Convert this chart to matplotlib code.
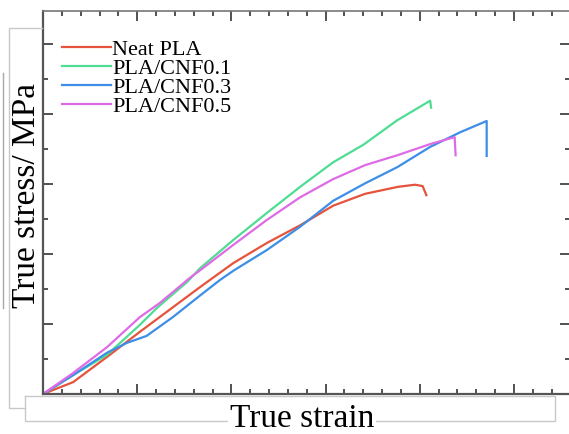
import numpy as np
import matplotlib
matplotlib.use("Agg")
import matplotlib.pyplot as plt
from matplotlib.lines import Line2D
from matplotlib.ticker import MultipleLocator

# --------------------------------------------------------
# Data
# --------------------------------------------------------
labels = ["Neat PLA", "PLA/CNF0.1", "PLA/CNF0.3", "PLA/CNF0.5"]
colors = ["#E5533C", "#4FDC93", "#3C8EE6", "#DE6BE6"]

neat_strain = [0, 0.0032, 0.0068, 0.0103, 0.0138, 0.0167, 0.0202, 0.0238, 0.0273,
               0.0308, 0.0342, 0.0377, 0.0395, 0.0403, 0.0407]
neat_stress = [0, 1.7, 5.3, 8.9, 12.4, 15.3, 18.7, 21.6, 24.1,
               26.9, 28.6, 29.6, 29.9, 29.7, 28.4]

cnf01_strain = [0, 0.0032, 0.0068, 0.0103, 0.0121, 0.0153, 0.0167, 0.0202, 0.0238,
                0.0273, 0.0308, 0.0340, 0.0376, 0.0411, 0.0412]
cnf01_stress = [0, 2.7, 5.6, 9.9, 12.3, 16.0, 18.0, 22.0, 25.9,
                29.6, 33.1, 35.6, 39.1, 41.9, 40.9]

cnf03_strain = [0, 0.0032, 0.0068, 0.0089, 0.0110, 0.0138, 0.0167, 0.0188, 0.0202,
                0.0238, 0.0273, 0.0308, 0.0342, 0.0376, 0.0411, 0.0443, 0.0471, 0.0471]
cnf03_stress = [0, 2.7, 5.9, 7.3, 8.3, 11.0, 14.1, 16.3, 17.6,
                20.6, 23.9, 27.6, 30.1, 32.4, 35.3, 37.4, 39.0, 34.0]

cnf05_strain = [0, 0.0032, 0.0068, 0.0103, 0.0124, 0.0156, 0.0167, 0.0202, 0.0238,
                0.0273, 0.0308, 0.0342, 0.0376, 0.0411, 0.0437, 0.0438]
cnf05_stress = [0, 3.0, 6.7, 11.0, 13.0, 16.6, 17.7, 21.3, 24.9,
                28.1, 30.7, 32.7, 34.1, 35.7, 36.7, 34.1]

curves = [(neat_strain, neat_stress), (cnf01_strain, cnf01_stress),
          (cnf03_strain, cnf03_stress), (cnf05_strain, cnf05_stress)]

W, H = 569, 434
plt.rcParams['font.family'] = ['Liberation Serif', 'DejaVu Serif']


def px(x, y):
    """Pixel position (from top-left) -> figure fraction."""
    return x / W, 1 - y / H


fig = plt.figure(figsize=(W / 100, H / 100), dpi=100)

# grey text-box outlines around the axis titles (as in the original export)
box_col = "#c8c8c8"


def fig_line(points, color=box_col, lw=1.0, z=0.5):
    xs, ys = zip(*[px(a, b) for a, b in points])
    fig.add_artist(Line2D(xs, ys, color=color, lw=lw, zorder=z))


fig_line([(25, 396), (25, 421), (555, 421), (555, 396), (25, 396)])
fig_line([(42, 28), (9, 28), (9, 408), (25, 408)])
fig_line([(3, 73), (3, 308)], color="#a8a8a8")

l, b = px(43, 394)
r, t = px(570, 11)
ax = fig.add_axes([l, b, r - l, t - b])

for (xs, ys), lab, c in zip(curves, labels, colors):
    ax.plot(xs, ys, color=c, lw=1.6, label=lab)

ax.set_xlim(0, (570 - 43) / 94.2 * 0.01)
ax.set_ylim(0, (394 - 11) / 7.0)

ax.xaxis.set_major_locator(MultipleLocator(0.01))
ax.xaxis.set_minor_locator(MultipleLocator(0.002))
ax.yaxis.set_major_locator(MultipleLocator(10))
ax.yaxis.set_minor_locator(MultipleLocator(5))
ax.tick_params(which='both', direction='in', top=True, right=True,
               labelbottom=False, labelleft=False, colors="#333333", width=1.2)
ax.tick_params(which='major', length=7)
ax.tick_params(which='minor', length=3.5)

for side in ['left', 'bottom']:
    ax.spines[side].set_color("#555555")
    ax.spines[side].set_linewidth(1.6)
ax.spines['top'].set_color("#777777")
ax.spines['top'].set_linewidth(1.2)
ax.spines['right'].set_visible(False)

ax.legend(loc='upper left', bbox_to_anchor=((62 - 43) / 527, (394 - 39) / 383),
          frameon=False, fontsize=16, borderpad=0, borderaxespad=0,
          handlelength=2.2, handletextpad=0.05, labelspacing=-0.07)

fx, fy = px(302, 427)
fig.text(fx, fy, "True strain", fontsize=24, ha='center', va='baseline',
         bbox=dict(facecolor='white', edgecolor='none', pad=1))
fx, fy = px(27, 195)
fig.text(fx, fy, "True stress/ MPa", fontsize=24, rotation=90,
         ha='center', va='center')

fig.savefig("out.png", dpi=100)
